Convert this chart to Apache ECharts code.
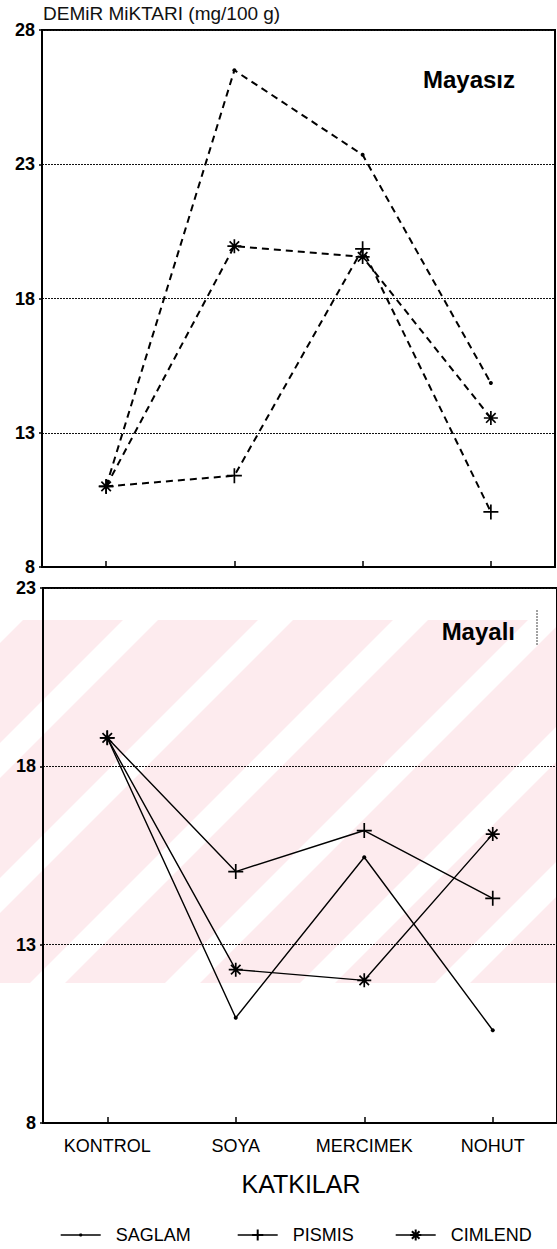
<!DOCTYPE html>
<html>
<head>
<meta charset="utf-8">
<title>Demir miktarı</title>
<script src="https://cdn.jsdelivr.net/npm/echarts@6/dist/echarts.min.js"></script>
<style>
  html, body { margin: 0; padding: 0; background: #fff; }
  #chart { width: 557px; height: 1249px; }
</style>
</head>
<body>
<div id="chart"></div>
<script>
// Iron content (mg/100 g) by additive, without yeast (Mayasız) and with yeast (Mayalı)
const categories = ['KONTROL', 'SOYA', 'MERCIMEK', 'NOHUT'];
const seriesNames = ['SAGLAM', 'PISMIS', 'CIMLEND'];

const mayasizSaglam  = [11.0, 26.5, 23.35, 14.85];
const mayasizPismis  = [11.0, 11.4, 19.85, 10.05];
const mayasizCimlend = [11.0, 19.95, 19.55, 13.55];

const mayaliSaglam  = [18.8, 10.95, 15.45, 10.6];
const mayaliPismis  = [18.8, 15.05, 16.2, 14.3];
const mayaliCimlend = [18.8, 12.3, 12.0, 16.1];

const topTicks = [8, 13, 18, 23, 28];
const bottomTicks = [8, 13, 18, 23];

const FONT = '"Liberation Sans", Arial, Helvetica, sans-serif';
const plusPath = 'path://M5,0L5,10M0,5L10,5';
const starPath = 'path://M5,0L5,10M0,5L10,5M1.6,1.6L8.4,8.4M1.6,8.4L8.4,1.6';

const symbolFor = {
  SAGLAM:  { symbol: 'circle', symbolSize: 4 },
  PISMIS:  { symbol: plusPath, symbolSize: 15 },
  CIMLEND: { symbol: starPath, symbolSize: 14 }
};

function makeSeries(name, data, gridIdx, dashed) {
  const s = symbolFor[name];
  return {
    name: name,
    type: 'line',
    xAxisIndex: gridIdx,
    yAxisIndex: gridIdx,
    data: data,
    symbol: s.symbol,
    symbolSize: s.symbolSize,
    showSymbol: true,
    lineStyle: dashed
      ? { color: '#000', width: 2, type: [7, 5] }
      : { color: '#000', width: 1.4, type: 'solid' },
    itemStyle: { color: '#000', borderColor: '#000', borderWidth: name === 'SAGLAM' ? 0 : 1.7 },
    emphasis: { disabled: true },
    z: 5
  };
}

function yAxisFor(gridIdx, min, max) {
  return {
    gridIndex: gridIdx,
    type: 'value',
    min: min,
    max: max,
    interval: 5,
    axisLine: { show: true, lineStyle: { color: '#000', width: 2 } },
    axisTick: { show: true, length: 3, lineStyle: { color: '#000', width: 1.5 } },
    axisLabel: { show: true, margin: 7, color: '#000', fontSize: 18, fontWeight: 'bold', fontFamily: FONT },
    splitLine: { show: true, lineStyle: { color: '#111', width: 1, type: [2, 1] } }
  };
}

function xAxisFor(gridIdx, showLabels) {
  return {
    gridIndex: gridIdx,
    type: 'category',
    data: categories,
    boundaryGap: true,
    axisLine: { show: true, lineStyle: { color: '#000', width: 2 } },
    axisTick: { show: true, inside: true, alignWithLabel: true, length: 6, lineStyle: { color: '#000', width: 1.5 } },
    axisLabel: { show: showLabels, margin: 14, color: '#000', fontSize: 18, fontFamily: FONT },
    splitLine: { show: false }
  };
}

// Pale diagonal-striped band behind the lower panel
const bandTop = 620, bandBottom = 983, stripeW = 35;
const band = [{
  type: 'rect', z: -20, silent: true,
  shape: { x: 0, y: bandTop, width: 557, height: bandBottom - bandTop },
  style: { fill: '#fdebee' }
}];
for (let x0 = -12; x0 < 557 + (bandBottom - bandTop); x0 += 135) {
  const h = bandBottom - bandTop;
  band.push({
    type: 'polygon', z: -19, silent: true,
    shape: { points: [[x0, bandTop], [x0 + stripeW, bandTop], [x0 + stripeW - h, bandBottom], [x0 - h, bandBottom]] },
    style: { fill: '#ffffff' }
  });
}

const legendCommon = {
  orient: 'horizontal',
  top: 1221,
  itemWidth: 40,
  itemHeight: 14,
  selectedMode: false,
  lineStyle: { type: 'solid', width: 1.4 },
  textStyle: { fontSize: 18, color: '#000', fontFamily: FONT, padding: [0, 0, 0, 10] }
};

const chart = echarts.init(document.getElementById('chart'), null, { renderer: 'svg', width: 557, height: 1249 });

chart.setOption({
  backgroundColor: '#fff',
  animation: false,
  textStyle: { fontFamily: FONT },
  grid: [
    { left: 42, right: 2, top: 30, height: 537, show: true, borderColor: '#000', borderWidth: 2, containLabel: false },
    { left: 43, width: 516, top: 588, height: 535, show: true, borderColor: '#000', borderWidth: 2, containLabel: false }
  ],
  xAxis: [xAxisFor(0, false), xAxisFor(1, true)],
  yAxis: [yAxisFor(0, topTicks[0], topTicks[topTicks.length - 1]), yAxisFor(1, bottomTicks[0], bottomTicks[bottomTicks.length - 1])],
  legend: [
    Object.assign({}, legendCommon, { left: 55, itemHeight: 4, data: [seriesNames[0]] }),
    Object.assign({}, legendCommon, { left: 232, data: [seriesNames[1]] }),
    Object.assign({}, legendCommon, { left: 390, data: [seriesNames[2]] })
  ],
  series: [
    makeSeries('SAGLAM', mayaliSaglam, 1, false),
    makeSeries('PISMIS', mayaliPismis, 1, false),
    makeSeries('CIMLEND', mayaliCimlend, 1, false),
    makeSeries('SAGLAM', mayasizSaglam, 0, true),
    makeSeries('PISMIS', mayasizPismis, 0, true),
    makeSeries('CIMLEND', mayasizCimlend, 0, true)
  ],
  graphic: band.concat([
    {
      type: 'text', x: 43, y: 13, silent: true,
      style: { text: 'DEMiR MiKTARI (mg/100 g)', fill: '#111', font: '19px ' + FONT, align: 'left', verticalAlign: 'middle' }
    },
    {
      type: 'text', x: 515, y: 79, silent: true,
      style: { text: 'Mayasız', fill: '#000', font: 'bold 24px ' + FONT, align: 'right', verticalAlign: 'middle' }
    },
    {
      type: 'text', x: 515, y: 631, silent: true,
      style: { text: 'Mayalı', fill: '#000', font: 'bold 24px ' + FONT, align: 'right', verticalAlign: 'middle' }
    },
    {
      type: 'line', silent: true,
      shape: { x1: 537, y1: 610, x2: 537, y2: 646 },
      style: { stroke: '#444', lineWidth: 1, lineDash: [2, 1] }
    },
    {
      type: 'text', x: 301, y: 1184, silent: true,
      style: { text: 'KATKILAR', fill: '#000', font: '25px ' + FONT, align: 'center', verticalAlign: 'middle' }
    }
  ])
});
</script>
</body>
</html>
